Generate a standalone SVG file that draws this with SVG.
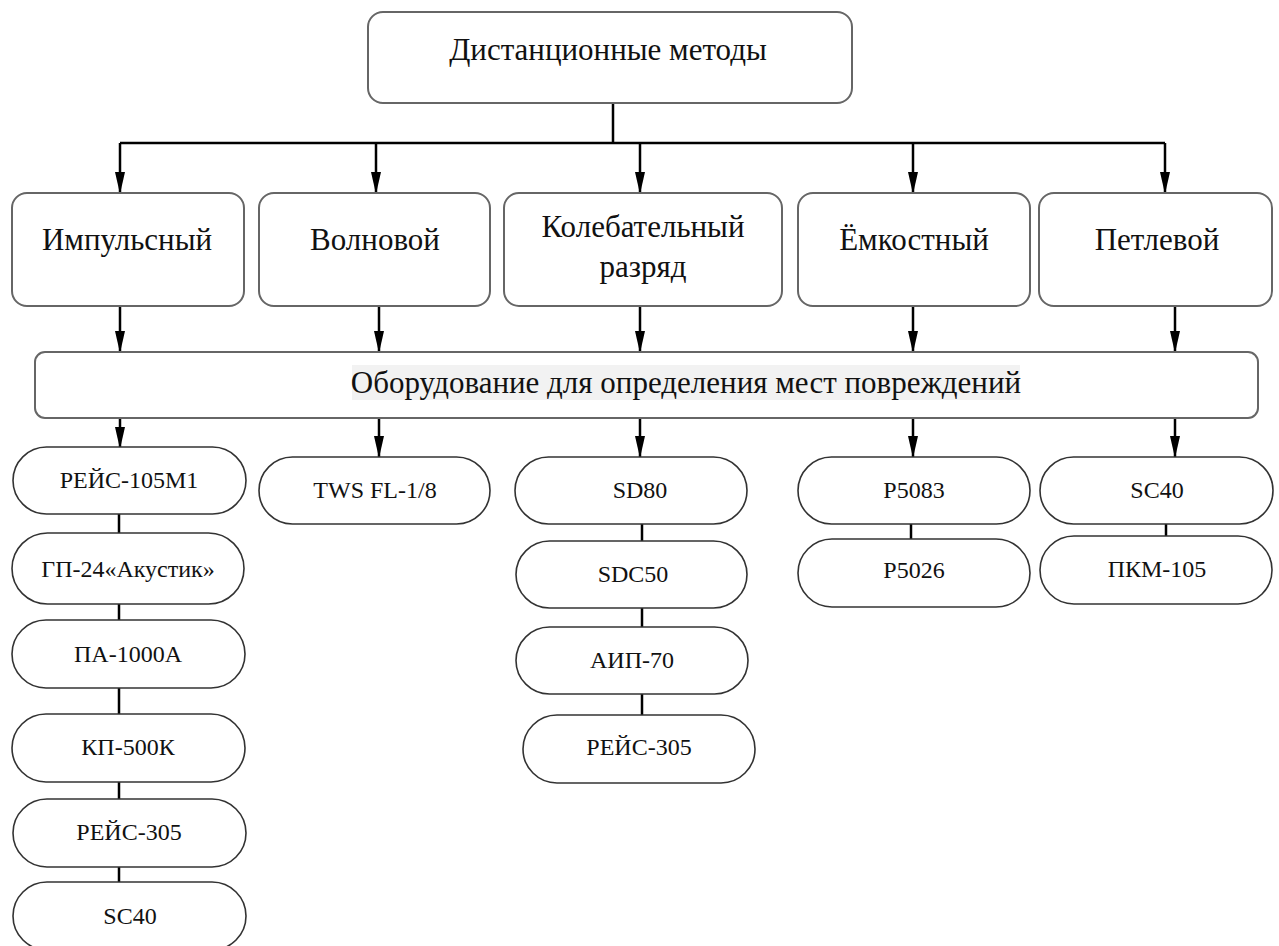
<svg xmlns="http://www.w3.org/2000/svg" width="1279" height="946" viewBox="0 0 1279 946">
<defs>
<marker id="arr" markerUnits="userSpaceOnUse" markerWidth="22" markerHeight="10" viewBox="0 0 22 10" refX="21" refY="5" orient="auto">
<path d="M0,0 L22,5 L0,10 Z" fill="#000"/>
</marker>
</defs>
<style>
.box{fill:#fff;stroke:#666;stroke-width:2}
.pill{fill:#fff;stroke:#333;stroke-width:1.6}
.t{font-family:'Liberation Serif','Times New Roman','DejaVu Serif',serif;fill:#111;text-anchor:middle}
.big{font-size:31px}
.sm{font-size:24px}
.c{stroke:#000;stroke-width:2.5;fill:none}
.a{stroke:#000;stroke-width:2.5;fill:none;marker-end:url(#arr)}
</style>
<rect width="1279" height="946" fill="#fff"/>
<g id="connectors">
<path class="c" d="M613,103 V143 M120,143 H1165"/>
<path class="a" d="M120,143 V193"/>
<path class="a" d="M376,143 V193"/>
<path class="a" d="M640,143 V193"/>
<path class="a" d="M913,143 V193"/>
<path class="a" d="M1165,143 V193"/>
<path class="a" d="M120,306 V352"/>
<path class="a" d="M379,306 V352"/>
<path class="a" d="M640,306 V352"/>
<path class="a" d="M913,306 V352"/>
<path class="a" d="M1175,306 V352"/>
<path class="a" d="M120,418 V448"/>
<path class="a" d="M379,418 V457"/>
<path class="a" d="M640,418 V457"/>
<path class="a" d="M913,418 V457"/>
<path class="a" d="M1175,418 V457"/>
<path class="c" d="M119,514 V533 M119,604 V620 M119,688 V714 M119,782 V799 M119,867 V882"/>
<path class="c" d="M642,524 V541 M642,608 V627 M642,694 V715"/>
<path class="c" d="M911,524 V539"/>
<path class="c" d="M1166,524 V536"/>
</g>
<g id="n-root"><rect class="box" x="368" y="12" width="484" height="91" rx="15"/><text class="t big" x="608" y="60">Дистанционные методы</text></g>
<g id="n-imp"><rect class="box" x="12" y="193" width="232" height="113" rx="15"/><text class="t big" x="127" y="250">Импульсный</text></g>
<g id="n-wave"><rect class="box" x="259" y="193" width="231" height="113" rx="15"/><text class="t big" x="375" y="250">Волновой</text></g>
<g id="n-osc"><rect class="box" x="504" y="193" width="278" height="113" rx="15"/><text class="t big" x="643" y="237">Колебательный</text><text class="t big" x="643" y="277">разряд</text></g>
<g id="n-cap"><rect class="box" x="798" y="193" width="232" height="113" rx="15"/><text class="t big" x="914" y="250">Ёмкостный</text></g>
<g id="n-loop"><rect class="box" x="1039" y="193" width="233" height="113" rx="15"/><text class="t big" x="1157" y="250">Петлевой</text></g>
<g id="n-equip"><rect class="box" x="35" y="352" width="1223" height="66" rx="10"/><rect x="352" y="365" width="668" height="35" fill="#f2f2f2"/><text class="t big" x="686" y="393">Оборудование для определения мест повреждений</text></g>
<g id="p1"><rect class="pill" x="13" y="447" width="233" height="67" rx="33.5"/><text class="t sm" x="129" y="488">РЕЙС-105М1</text></g>
<g id="p2"><rect class="pill" x="12" y="533" width="232" height="71" rx="35.5"/><text class="t sm" x="128" y="577">ГП-24«Акустик»</text></g>
<g id="p3"><rect class="pill" x="12" y="620" width="233" height="68" rx="34"/><text class="t sm" x="128" y="662">ПА-1000А</text></g>
<g id="p4"><rect class="pill" x="12" y="714" width="233" height="68" rx="34"/><text class="t sm" x="128" y="755">КП-500К</text></g>
<g id="p5"><rect class="pill" x="13" y="799" width="233" height="68" rx="34"/><text class="t sm" x="129" y="840">РЕЙС-305</text></g>
<g id="p6"><rect class="pill" x="13" y="882" width="233" height="68" rx="34"/><text class="t sm" x="130" y="924">SC40</text></g>
<g id="p7"><rect class="pill" x="259" y="457" width="231" height="67" rx="33.5"/><text class="t sm" x="375" y="498">TWS FL-1/8</text></g>
<g id="p8"><rect class="pill" x="515" y="457" width="232" height="67" rx="33.5"/><text class="t sm" x="640" y="498">SD80</text></g>
<g id="p9"><rect class="pill" x="516" y="541" width="231" height="67" rx="33.5"/><text class="t sm" x="633" y="582">SDC50</text></g>
<g id="p10"><rect class="pill" x="516" y="627" width="232" height="67" rx="33.5"/><text class="t sm" x="632" y="668">АИП-70</text></g>
<g id="p11"><rect class="pill" x="523" y="715" width="232" height="68" rx="34"/><text class="t sm" x="639" y="755">РЕЙС-305</text></g>
<g id="p12"><rect class="pill" x="798" y="457" width="232" height="67" rx="33.5"/><text class="t sm" x="914" y="498">P5083</text></g>
<g id="p13"><rect class="pill" x="798" y="539" width="232" height="68" rx="34"/><text class="t sm" x="914" y="578">P5026</text></g>
<g id="p14"><rect class="pill" x="1040" y="457" width="233" height="67" rx="33.5"/><text class="t sm" x="1157" y="498">SC40</text></g>
<g id="p15"><rect class="pill" x="1040" y="536" width="232" height="68" rx="34"/><text class="t sm" x="1157" y="577">ПКМ-105</text></g>
</svg>
